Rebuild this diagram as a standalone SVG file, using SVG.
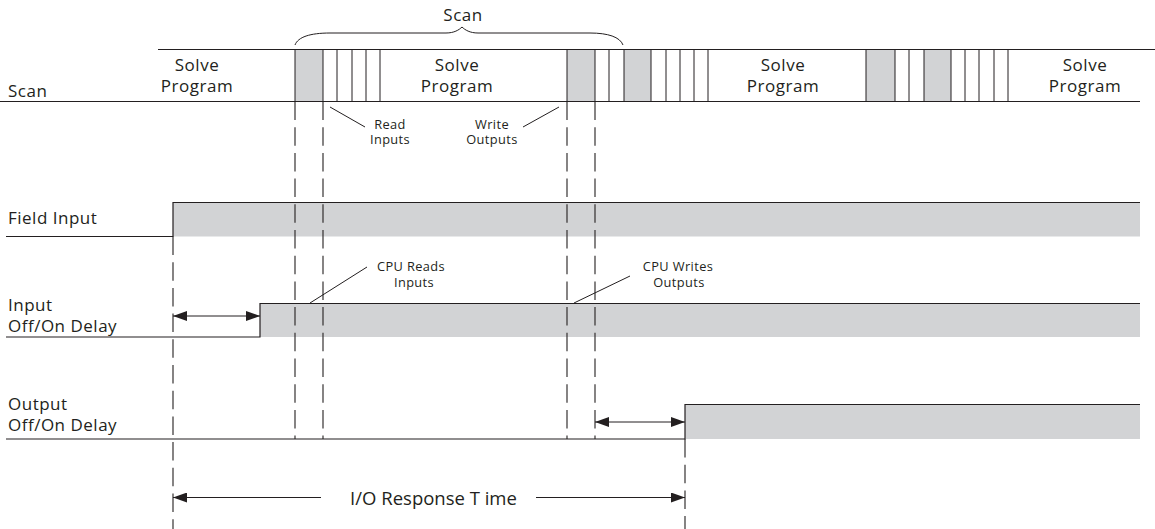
<svg xmlns="http://www.w3.org/2000/svg" width="1155" height="529" viewBox="0 0 1155 529">
  <defs>
    <style>
      .ln { stroke: #231f20; stroke-width: 1.2; fill: none; }
      .thin { stroke: #231f20; stroke-width: 1; fill: none; }
      .dash { stroke: #231f20; stroke-width: 1.1; fill: none; stroke-dasharray: 18.5 7.2; }
      .gray { fill: #d2d3d5; stroke: none; }
      .t { font-family: "Open Sans", "Noto Sans", sans-serif; font-size: 17px; fill: #231f20; letter-spacing: 0.5px; }
      .c { text-anchor: middle; }
      .s { font-family: "Open Sans", "Noto Sans", sans-serif; font-size: 12.8px; fill: #231f20; letter-spacing: 0.4px; text-anchor: middle; }
      .big { font-family: "Open Sans", "Noto Sans", sans-serif; font-size: 18.5px; fill: #231f20; text-anchor: middle; }
    </style>
    <marker id="ah" viewBox="0 0 14 10" refX="14" refY="5" markerWidth="14" markerHeight="10" markerUnits="userSpaceOnUse" orient="auto-start-reverse">
      <path d="M0,0 L14,5 L0,10 Z" fill="#231f20"/>
    </marker>
  </defs>
  <rect width="1155" height="529" fill="#ffffff"/>

  <!-- Scan row -->
  <g id="scan-row">
    <rect class="gray" x="295" y="49.5" width="28" height="52"/>
    <rect class="gray" x="567" y="49.5" width="28" height="52"/>
    <rect class="gray" x="624" y="49.5" width="27" height="52"/>
    <rect class="gray" x="866" y="49.5" width="29" height="52"/>
    <rect class="gray" x="924" y="49.5" width="27" height="52"/>
    <line class="ln" x1="158" y1="49.5" x2="1155" y2="49.5"/>
    <line class="ln" x1="0" y1="101.5" x2="1140" y2="101.5"/>
    <path class="thin" d="M295,49.5V101.5 M323,49.5V101.5 M337,49.5V101.5 M352,49.5V101.5 M366,49.5V101.5 M380,49.5V101.5
      M567,49.5V101.5 M595,49.5V101.5 M609,49.5V101.5 M624,49.5V101.5 M651,49.5V101.5 M666,49.5V101.5 M680,49.5V101.5 M694,49.5V101.5 M708,49.5V101.5
      M866,49.5V101.5 M895,49.5V101.5 M909,49.5V101.5 M924,49.5V101.5 M951,49.5V101.5 M965,49.5V101.5 M979,49.5V101.5 M994,49.5V101.5 M1008,49.5V101.5"/>
    <text class="t" x="8" y="97">Scan</text>
    <text class="t c" x="197" y="70.8">Solve</text>
    <text class="t c" x="197" y="91.6">Program</text>
    <text class="t c" x="457" y="70.8">Solve</text>
    <text class="t c" x="457" y="91.6">Program</text>
    <text class="t c" x="783" y="70.8">Solve</text>
    <text class="t c" x="783" y="91.6">Program</text>
    <text class="t c" x="1085" y="70.8">Solve</text>
    <text class="t c" x="1085" y="91.6">Program</text>
  </g>

  <!-- Scan bracket -->
  <g id="scan-bracket">
    <path class="thin" d="M295,45 C298,37 310,33 330,33 L446,33 C454,33 459,30 462,27 C465,30 470,33 478,33 L590,33 C608,33 620,37 623,45"/>
    <text class="t c" x="463" y="21">Scan</text>
  </g>

  <!-- Field Input -->
  <g id="field-input">
    <rect class="gray" x="173" y="202.5" width="967" height="34"/>
    <path class="ln" d="M6,236.5 H173 V202.5 H1140"/>
    <text class="t" x="8" y="224">Field Input</text>
  </g>

  <!-- Input Off/On Delay -->
  <g id="input-delay">
    <rect class="gray" x="260" y="303.5" width="880" height="33.5"/>
    <path class="ln" d="M6,337 H260 V303.5 H1140"/>
    <text class="t" x="8" y="311">Input</text>
    <text class="t" x="8" y="331.8">Off/On Delay</text>
  </g>

  <!-- Output Off/On Delay -->
  <g id="output-delay">
    <rect class="gray" x="685" y="404.5" width="455" height="34.5"/>
    <path class="ln" d="M6,439 H685 V404.5 H1140"/>
    <text class="t" x="8" y="410">Output</text>
    <text class="t" x="8" y="430.8">Off/On Delay</text>
  </g>

  <!-- Annotation labels -->
  <g id="labels">
    <text class="s" x="390" y="128.5">Read</text>
    <text class="s" x="390" y="144.4">Inputs</text>
    <text class="s" x="492" y="128.5">Write</text>
    <text class="s" x="492" y="144.4">Outputs</text>
    <text class="s" x="411" y="271">CPU Reads</text>
    <text class="s" x="414" y="287">Inputs</text>
    <text class="s" x="678" y="271">CPU Writes</text>
    <text class="s" x="679" y="287">Outputs</text>
    <text class="big" x="433.5" y="505">I/O Response T ime</text>
  </g>

  <!-- Connectors -->
  <g id="connectors">
    <path class="dash" d="M295,101.5V439 M323,101.5V439 M567,101.5V439 M595,101.5V439"/>
    <path class="dash" d="M173,236.5V529"/>
    <path class="dash" d="M685,439V529"/>
    <line class="thin" x1="330" y1="107" x2="365" y2="127"/>
    <line class="thin" x1="523" y1="127" x2="559" y2="107"/>
    <line class="thin" x1="310" y1="303" x2="367" y2="267"/>
    <line class="thin" x1="574" y1="303" x2="630" y2="276"/>
    <line class="thin" x1="173" y1="316" x2="260" y2="316" marker-start="url(#ah)" marker-end="url(#ah)"/>
    <line class="thin" x1="595" y1="422" x2="685" y2="422" marker-start="url(#ah)" marker-end="url(#ah)"/>
    <line class="thin" x1="173" y1="497.5" x2="321" y2="497.5" marker-start="url(#ah)"/>
    <line class="thin" x1="536" y1="497.5" x2="685" y2="497.5" marker-end="url(#ah)"/>
  </g>
</svg>
